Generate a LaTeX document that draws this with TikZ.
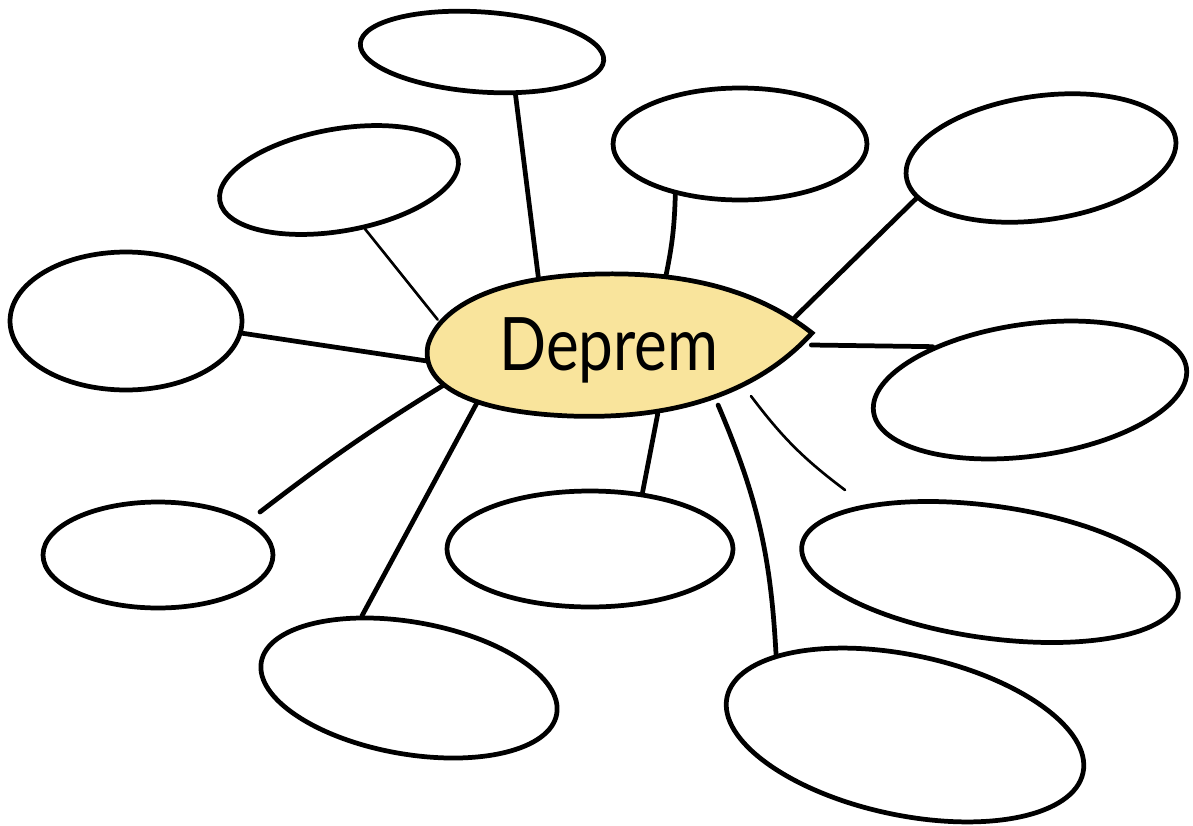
\documentclass[tikz,border=0pt]{standalone}
\usepackage{fontspec}
\setmainfont{Lato}
\newfontfamily\titlefont[FakeStretch=0.84]{Lato}
\usetikzlibrary{shapes.geometric,backgrounds}
\definecolor{leafyellow}{HTML}{F9E49C}
\begin{document}
\begin{tikzpicture}[x=0.02cm,y=-0.02cm,
  bubble/.style={draw, ellipse, line width=2.7pt, inner sep=0pt},
  link/.style={line width=2.7pt, line cap=round},
  thinlink/.style={line width=1.5pt, line cap=round}]
\useasboundingbox (0,0) rectangle (1193,825);
% outer bubbles
\node[bubble, minimum width=4.88cm, minimum height=1.6cm, rotate=-4] (e1) at (482,52) {};
\node[bubble, minimum width=4.84cm, minimum height=2.04cm, rotate=10] (e2) at (339,180) {};
\node[bubble, minimum width=4.64cm, minimum height=2.76cm] (e3) at (126,321) {};
\node[bubble, minimum width=5.08cm, minimum height=2.24cm] (e4) at (740,144) {};
\node[bubble, minimum width=5.44cm, minimum height=2.48cm, rotate=8] (e5) at (1041,158) {};
\node[bubble, minimum width=6.32cm, minimum height=2.64cm, rotate=8] (e6) at (1030,390) {};
\node[bubble, minimum width=4.6cm, minimum height=2.12cm] (e7) at (158,555) {};
\node[bubble, minimum width=5.72cm, minimum height=2.32cm] (e8) at (590,549) {};
\node[bubble, minimum width=7.6cm, minimum height=2.64cm, rotate=-8] (e9) at (990,572) {};
\node[bubble, minimum width=6.0cm, minimum height=2.64cm, rotate=-10] (e10) at (409,688) {};
\node[bubble, minimum width=7.28cm, minimum height=3.2cm, rotate=-12] (e11) at (905,735) {};
% invisible frame of the centre for connector ends
\node[ellipse, minimum width=7.72cm, minimum height=2.8cm, inner sep=0pt] (deprem) at (618,345) {};
\coordinate (c9end) at (845,490);
\coordinate (c7end) at (260,512);
% connectors
\begin{scope}[on background layer]
\draw[link] (e1.-48.7) -- (deprem.141.7);
\draw[thinlink] (e2.-72.5) -- (deprem.172);
\draw[link] (e3.-6.8) -- (deprem.185);
\draw[link] (e4.-142.3) to[bend left=5] (deprem.55.6);
\draw[link] (e5.-170) -- (deprem.9.7);
\draw[link] (e6.148.8) -- (deprem.0);
\draw[link] (c7end) to[bend left=3] (deprem.192.3);
\draw[link] (e8.47) -- (deprem.-60);
\draw[thinlink] (c9end) to[bend left=8] (deprem.-21.9);
\draw[link] (e10.133.9) -- (deprem.200.4);
\draw[link] (e11.160.1) to[bend right=10] (deprem.-31.7);
\end{scope}
% leaf-shaped centre
\draw[line width=2.7pt, fill=leafyellow]
  (812,333) .. controls (760,292) and (690,272) .. (600,274)
  .. controls (500,276) and (440,305) .. (428,345)
  .. controls (420,385) and (470,412) .. (570,416)
  .. controls (680,420) and (760,390) .. (812,333) -- cycle;
\node[anchor=base, inner sep=0pt, font=\titlefont\fontsize{42}{42}\selectfont] (title) at (609,370) {Deprem};
\end{tikzpicture}
\end{document}
